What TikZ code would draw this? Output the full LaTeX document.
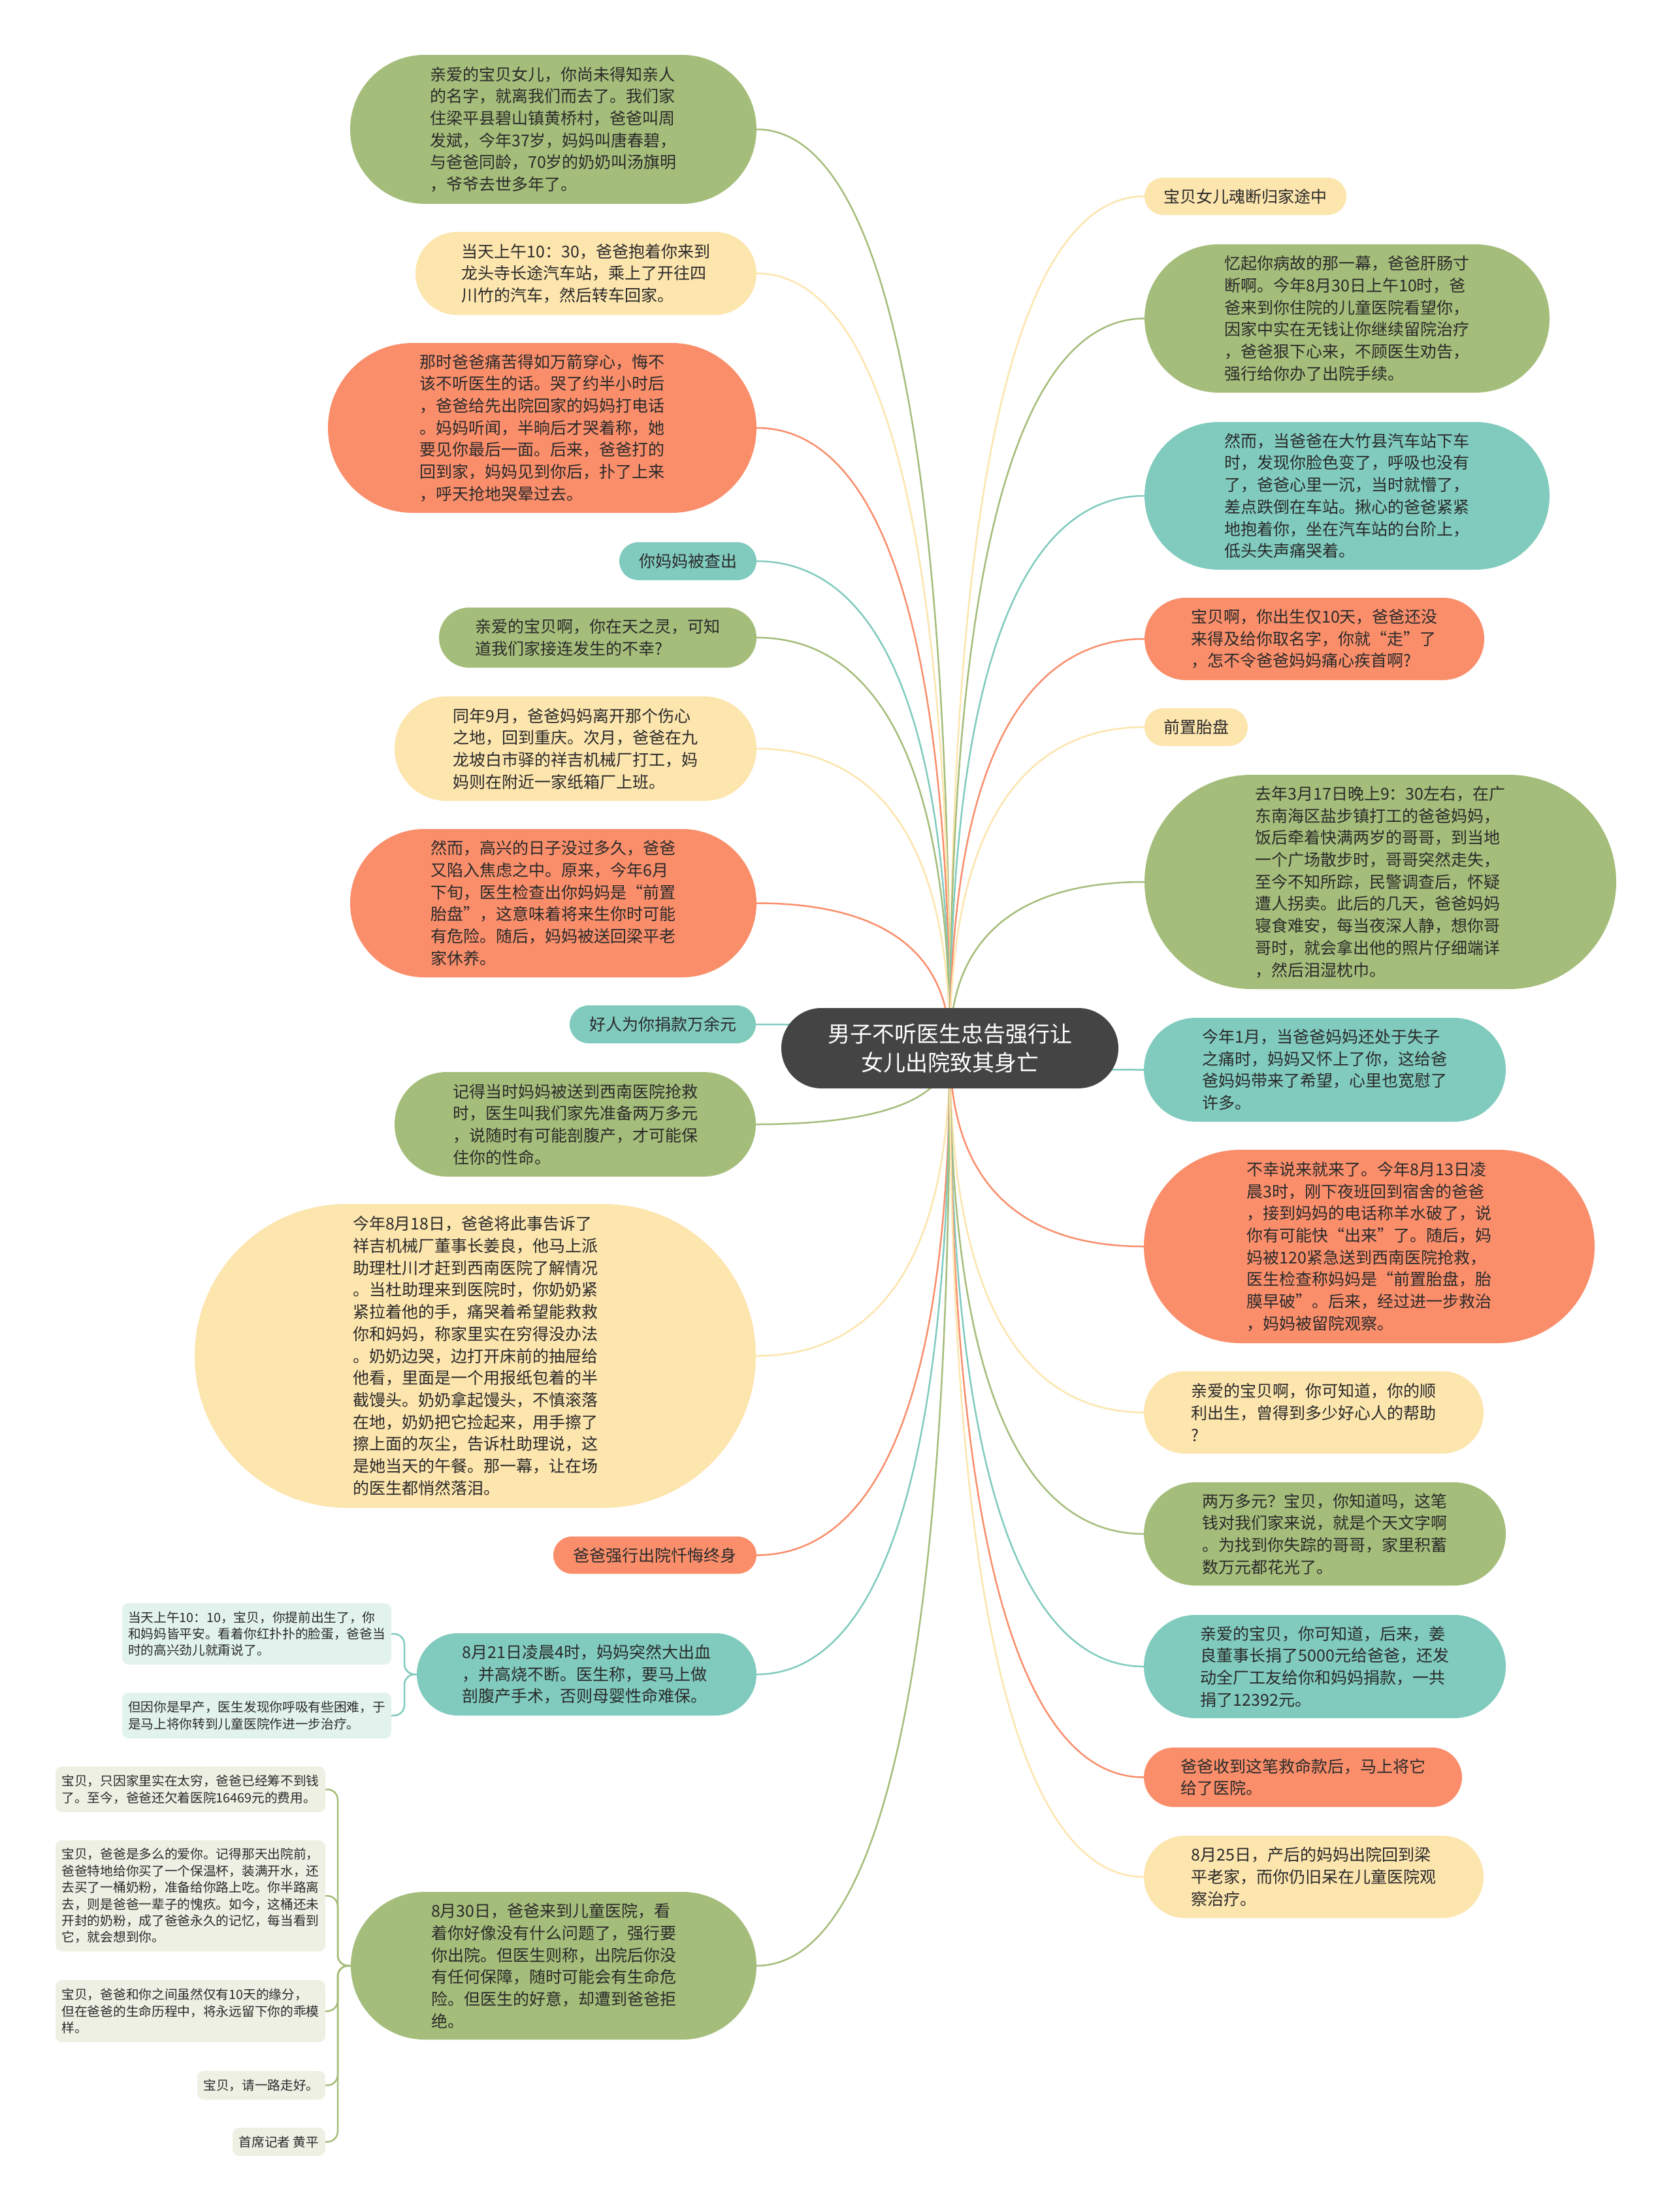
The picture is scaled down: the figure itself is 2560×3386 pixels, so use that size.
\documentclass[tikz,border=0pt]{standalone}
\usepackage{fontspec}
\setmainfont{Noto Sans CJK SC}
\usetikzlibrary{shapes.misc,calc}
\definecolor{cgreen}{HTML}{A5BD7A}
\definecolor{cyellow}{HTML}{FDE5AE}
\definecolor{corange}{HTML}{FA8E6B}
\definecolor{cteal}{HTML}{80CBBE}
\definecolor{cdark}{HTML}{444444}
\definecolor{cltteal}{HTML}{E2F3EE}
\definecolor{cltgreen}{HTML}{EEF0E4}
\definecolor{ctext}{HTML}{2A2A2A}
\pgfdeclarelayer{bg}
\pgfsetlayers{bg,main}
\tikzset{
  bub/.style={shape=rounded rectangle, inner sep=0pt, text=ctext, align=left,
    font=\fontsize{25}{33.7}\selectfont},
  leafbox/.style={shape=rectangle, rounded corners=10pt, inner sep=0pt, text=ctext, align=left,
    font=\fontsize{19.7}{25.4}\selectfont},
  conn/.style={line width=2.5pt},
  brk/.style={line width=2.5pt, rounded corners=16pt},
}
\newcommand\rootlink[3]{%
  \draw[conn,#1] let \p1=(root.center), \p2=(#2.#3) in
    (\p1) .. controls (\x1,{\y1+0.8*(\y2-\y1)}) and ({\x2+0.5*(\x1-\x2)},\y2) .. (\p2);}
\begin{document}
\begin{tikzpicture}[x=1pt,y=-1pt]
\useasboundingbox (0,0) rectangle (2560,3386);

% root
\node[shape=rounded rectangle, inner sep=0pt, fill=cdark, text=white, align=center,
  font=\fontsize{34}{43.4}\selectfont, minimum width=516pt, minimum height=123pt]
  (root) at (1454,1604.5) {男子不听医生忠告强行让\\女儿出院致其身亡};

% left side
\node[bub, fill=cgreen, minimum width=622pt, minimum height=228pt] (A) at (847,198)
 {亲爱的宝贝女儿，你尚未得知亲人\\的名字，就离我们而去了。我们家\\住梁平县碧山镇黄桥村，爸爸叫周\\发斌，今年37岁，妈妈叫唐春碧，\\与爸爸同龄，70岁的奶奶叫汤旗明\\，爷爷去世多年了。};
\node[bub, fill=cyellow, minimum width=522pt, minimum height=127pt] (B) at (897,418.5)
 {当天上午10：30，爸爸抱着你来到\\龙头寺长途汽车站，乘上了开往四\\川竹的汽车，然后转车回家。};
\node[bub, fill=corange, minimum width=656pt, minimum height=260pt] (C) at (830,655)
 {那时爸爸痛苦得如万箭穿心，悔不\\该不听医生的话。哭了约半小时后\\，爸爸给先出院回家的妈妈打电话\\。妈妈听闻，半晌后才哭着称，她\\要见你最后一面。后来，爸爸打的\\回到家，妈妈见到你后，扑了上来\\，呼天抢地哭晕过去。};
\node[bub, fill=cteal, minimum width=210pt, minimum height=58pt] (D) at (1053,859)
 {你妈妈被查出};
\node[bub, fill=cgreen, minimum width=486pt, minimum height=92pt] (E) at (915,976)
 {亲爱的宝贝啊，你在天之灵，可知\\道我们家接连发生的不幸?};
\node[bub, fill=cyellow, minimum width=554pt, minimum height=160pt] (F) at (881,1146)
 {同年9月，爸爸妈妈离开那个伤心\\之地，回到重庆。次月，爸爸在九\\龙坡白市驿的祥吉机械厂打工，妈\\妈则在附近一家纸箱厂上班。};
\node[bub, fill=corange, minimum width=622pt, minimum height=227pt] (G) at (847,1382.5)
 {然而，高兴的日子没过多久，爸爸\\又陷入焦虑之中。原来，今年6月\\下旬，医生检查出你妈妈是“前置\\胎盘”，这意味着将来生你时可能\\有危险。随后，妈妈被送回梁平老\\家休养。};
\node[bub, fill=cteal, minimum width=285pt, minimum height=58pt] (H) at (1014.5,1568)
 {好人为你捐款万余元};
\node[bub, fill=cgreen, minimum width=553pt, minimum height=160pt] (I) at (880.5,1721)
 {记得当时妈妈被送到西南医院抢救\\时，医生叫我们家先准备两万多元\\，说随时有可能剖腹产，才可能保\\住你的性命。};
\node[bub, fill=cyellow, minimum width=859pt, minimum height=465pt] (J) at (727.5,2075.5)
 {今年8月18日，爸爸将此事告诉了\\祥吉机械厂董事长姜良，他马上派\\助理杜川才赶到西南医院了解情况\\。当杜助理来到医院时，你奶奶紧\\紧拉着他的手，痛哭着希望能救救\\你和妈妈，称家里实在穷得没办法\\。奶奶边哭，边打开床前的抽屉给\\他看，里面是一个用报纸包着的半\\截馒头。奶奶拿起馒头，不慎滚落\\在地，奶奶把它捡起来，用手擦了\\擦上面的灰尘，告诉杜助理说，这\\是她当天的午餐。那一幕，让在场\\的医生都悄然落泪。};
\node[bub, fill=corange, minimum width=311pt, minimum height=57pt] (K) at (1002.5,2380.5)
 {爸爸强行出院忏悔终身};
\node[bub, fill=cteal, minimum width=520pt, minimum height=126pt] (L) at (898,2563)
 {8月21日凌晨4时，妈妈突然大出血\\，并高烧不断。医生称，要马上做\\剖腹产手术，否则母婴性命难保。};
\node[leafbox, fill=cltteal, minimum width=412pt, minimum height=94pt] (L1) at (393,2501)
 {当天上午10：10，宝贝，你提前出生了，你\\和妈妈皆平安。看着你红扑扑的脸蛋，爸爸当\\时的高兴劲儿就甭说了。};
\node[leafbox, fill=cltteal, minimum width=412pt, minimum height=70pt] (L2) at (393,2626)
 {但因你是早产，医生发现你呼吸有些困难，于\\是马上将你转到儿童医院作进一步治疗。};
\node[bub, fill=cgreen, minimum width=621pt, minimum height=226pt] (M) at (847.5,3009)
 {8月30日，爸爸来到儿童医院，看\\着你好像没有什么问题了，强行要\\你出院。但医生则称，出院后你没\\有任何保障，随时可能会有生命危\\险。但医生的好意，却遭到爸爸拒\\绝。};
\node[leafbox, fill=cltgreen, minimum width=413pt, minimum height=70pt] (M1) at (291.5,2739)
 {宝贝，只因家里实在太穷，爸爸已经筹不到钱\\了。至今，爸爸还欠着医院16469元的费用。};
\node[leafbox, fill=cltgreen, minimum width=413pt, minimum height=170pt] (M2) at (291.5,2902)
 {宝贝，爸爸是多么的爱你。记得那天出院前，\\爸爸特地给你买了一个保温杯，装满开水，还\\去买了一桶奶粉，准备给你路上吃。你半路离\\去，则是爸爸一辈子的愧疚。如今，这桶还未\\开封的奶粉，成了爸爸永久的记忆，每当看到\\它，就会想到你。};
\node[leafbox, fill=cltgreen, minimum width=413pt, minimum height=95pt] (M3) at (291.5,3078.5)
 {宝贝，爸爸和你之间虽然仅有10天的缘分，\\但在爸爸的生命历程中，将永远留下你的乖模\\样。};
\node[leafbox, fill=cltgreen, minimum width=196pt, minimum height=44pt] (M4) at (400,3192)
 {宝贝，请一路走好。};
\node[leafbox, fill=cltgreen, minimum width=142pt, minimum height=43pt] (M5) at (427,3278.5)
 {首席记者 黄平};

% right side
\node[bub, fill=cyellow, minimum width=309pt, minimum height=57pt] (N) at (1906.5,300.5)
 {宝贝女儿魂断归家途中};
\node[bub, fill=cgreen, minimum width=620pt, minimum height=227pt] (O) at (2062,487.5)
 {忆起你病故的那一幕，爸爸肝肠寸\\断啊。今年8月30日上午10时，爸\\爸来到你住院的儿童医院看望你，\\因家中实在无钱让你继续留院治疗\\，爸爸狠下心来，不顾医生劝告，\\强行给你办了出院手续。};
\node[bub, fill=cteal, minimum width=620pt, minimum height=226pt] (P) at (2062,759)
 {然而，当爸爸在大竹县汽车站下车\\时，发现你脸色变了，呼吸也没有\\了，爸爸心里一沉，当时就懵了，\\差点跌倒在车站。揪心的爸爸紧紧\\地抱着你，坐在汽车站的台阶上，\\低头失声痛哭着。};
\node[bub, fill=corange, minimum width=520pt, minimum height=126pt] (Q) at (2012,978)
 {宝贝啊，你出生仅10天，爸爸还没\\来得及给你取名字，你就“走”了\\，怎不令爸爸妈妈痛心疾首啊?};
\node[bub, fill=cyellow, minimum width=158pt, minimum height=58pt] (R) at (1831,1113)
 {前置胎盘};
\node[bub, fill=cgreen, minimum width=722pt, minimum height=328pt] (S) at (2113,1350)
 {去年3月17日晚上9：30左右，在广\\东南海区盐步镇打工的爸爸妈妈，\\饭后牵着快满两岁的哥哥，到当地\\一个广场散步时，哥哥突然走失，\\至今不知所踪，民警调查后，怀疑\\遭人拐卖。此后的几天，爸爸妈妈\\寝食难安，每当夜深人静，想你哥\\哥时，就会拿出他的照片仔细端详\\，然后泪湿枕巾。};
\node[bub, fill=cteal, minimum width=554pt, minimum height=159pt] (T) at (2028,1637.5)
 {今年1月，当爸爸妈妈还处于失子\\之痛时，妈妈又怀上了你，这给爸\\爸妈妈带来了希望，心里也宽慰了\\许多。};
\node[bub, fill=corange, minimum width=690pt, minimum height=296pt] (U) at (2096,1908)
 {不幸说来就来了。今年8月13日凌\\晨3时，刚下夜班回到宿舍的爸爸\\，接到妈妈的电话称羊水破了，说\\你有可能快“出来”了。随后，妈\\妈被120紧急送到西南医院抢救，\\医生检查称妈妈是“前置胎盘，胎\\膜早破”。后来，经过进一步救治\\，妈妈被留院观察。};
\node[bub, fill=cyellow, minimum width=520pt, minimum height=126pt] (V) at (2011,2162)
 {亲爱的宝贝啊，你可知道，你的顺\\利出生，曾得到多少好心人的帮助\\?};
\node[bub, fill=cgreen, minimum width=554pt, minimum height=158pt] (W) at (2028,2348)
 {两万多元？宝贝，你知道吗，这笔\\钱对我们家来说，就是个天文字啊\\。为找到你失踪的哥哥，家里积蓄\\数万元都花光了。};
\node[bub, fill=cteal, minimum width=554pt, minimum height=158pt] (X) at (2028,2551)
 {亲爱的宝贝，你可知道，后来，姜\\良董事长捐了5000元给爸爸，还发\\动全厂工友给你和妈妈捐款，一共\\捐了12392元。};
\node[bub, fill=corange, minimum width=487pt, minimum height=91pt] (Y) at (1994.5,2720.5)
 {爸爸收到这笔救命款后，马上将它\\给了医院。};
\node[bub, fill=cyellow, minimum width=520pt, minimum height=126pt] (Z) at (2011,2873)
 {8月25日，产后的妈妈出院回到梁\\平老家，而你仍旧呆在儿童医院观\\察治疗。};

\coordinate (Lj) at (619,2563);
\coordinate (Mj) at (517,3009);

\begin{pgfonlayer}{bg}
\fill[white] (0,0) rectangle (2560,3386);
\rootlink{cgreen}{A}{east}
\rootlink{cyellow}{B}{east}
\rootlink{corange}{C}{east}
\rootlink{cteal}{D}{east}
\rootlink{cgreen}{E}{east}
\rootlink{cyellow}{F}{east}
\rootlink{corange}{G}{east}
\rootlink{cteal}{H}{east}
\rootlink{cgreen}{I}{east}
\rootlink{cyellow}{J}{east}
\rootlink{corange}{K}{east}
\rootlink{cteal}{L}{east}
\rootlink{cgreen}{M}{east}
\rootlink{cyellow}{N}{west}
\rootlink{cgreen}{O}{west}
\rootlink{cteal}{P}{west}
\rootlink{corange}{Q}{west}
\rootlink{cyellow}{R}{west}
\rootlink{cgreen}{S}{west}
\rootlink{cteal}{T}{west}
\rootlink{corange}{U}{west}
\rootlink{cyellow}{V}{west}
\rootlink{cgreen}{W}{west}
\rootlink{cteal}{X}{west}
\rootlink{corange}{Y}{west}
\rootlink{cyellow}{Z}{west}
\draw[brk,cteal] (L.west) -- (Lj) |- (L1.east);
\draw[brk,cteal] (L.west) -- (Lj) |- (L2.east);
\draw[brk,cgreen] (M.west) -- (Mj) |- (M1.east);
\draw[brk,cgreen] (M.west) -- (Mj) |- (M2.east);
\draw[brk,cgreen] (M.west) -- (Mj) |- (M3.east);
\draw[brk,cgreen] (M.west) -- (Mj) |- (M4.east);
\draw[brk,cgreen] (M.west) -- (Mj) |- (M5.east);
\end{pgfonlayer}
\end{tikzpicture}
\end{document}
